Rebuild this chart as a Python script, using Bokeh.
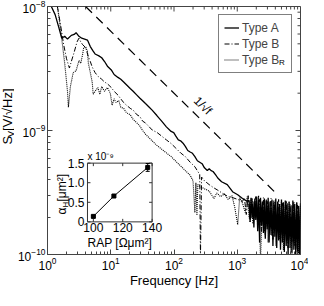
import math
from bokeh.plotting import figure
from bokeh.layouts import row
from bokeh.models import Range1d, LinearScale, FixedTicker, Legend, LegendItem, Label
from bokeh.embed import file_html
from bokeh.resources import INLINE
from bokeh.core.properties import value

FONT = "Liberation Sans"
AXIS = "#444444"

# ---------------- data ----------------
# Type A (solid)
freq_a = [1.00, 1.15, 1.32, 1.52, 1.68, 1.87, 2.07, 2.38, 2.64, 2.83, 3.14, 3.48, 3.86, 4.28,
          4.75, 5.27, 5.65, 6.49, 7.20, 7.98, 8.86, 10.2, 11.3, 13.0, 14.4, 16.0, 17.7, 20.3,
          22.6, 25.9, 28.7, 31.9, 35.4, 40.6, 45.1, 53.6, 63.8, 75.8, 90.1, 99, 107, 117, 127,
          139, 151, 165, 180, 196, 214, 234, 255, 278, 303, 336, 360, 386, 414, 459, 492, 565,
          695, 771, 855, 1017, 1210, 1438,
          1542, 1596, 1652, 1711, 1771, 1833, 1897, 1964, 2033, 2104, 2178, 2255, 2334, 2417,
          2502, 2592, 2683, 2778, 2876, 2977, 3082, 3190, 3303, 3420, 3540, 3664, 3793, 3927,
          4065, 4208, 4356, 4508, 4667, 4831, 5001, 5177, 5358, 5547, 5743, 5944, 6153, 6369,
          6600, 6826, 7080, 7330, 7570, 7850, 8113, 8410, 8710, 8997, 9330, 9643, 10000]
sv_a = [1.17e-8, 1.00e-8, 8.6e-9, 6.7e-9, 5.55e-9, 5.75e-9, 5.46e-9, 5.85e-9, 5.95e-9, 6.15e-9,
        5.75e-9, 5.55e-9, 5.46e-9, 5.36e-9, 4.75e-9, 4.36e-9, 4.14e-9, 4.00e-9, 3.86e-9, 3.60e-9,
        3.30e-9, 3.08e-9, 2.83e-9, 2.68e-9, 2.59e-9, 2.46e-9, 2.34e-9, 2.18e-9, 2.07e-9, 1.93e-9,
        1.83e-9, 1.74e-9, 1.65e-9, 1.54e-9, 1.46e-9, 1.32e-9, 1.19e-9, 1.07e-9, 9.83e-10, 9.6e-10,
        9.0e-10, 8.4e-10, 8.26e-10, 7.9e-10, 7.45e-10, 6.9e-10, 6.71e-10, 6.55e-10, 6.16e-10,
        5.7e-10, 5.55e-10, 5.4e-10, 5.0e-10, 4.75e-10, 4.92e-10, 4.75e-10, 4.67e-10, 4.36e-10,
        4.14e-10, 3.86e-10, 3.66e-10, 3.42e-10, 3.19e-10, 3.03e-10, 2.83e-10, 2.68e-10,
        2.73e-10, 1.83e-10, 2.87e-10, 1.96e-10, 2.68e-10, 1.65e-10, 2.83e-10, 1.90e-10, 2.93e-10,
        1.54e-10, 2.78e-10, 1.25e-10, 2.87e-10, 1.71e-10, 2.68e-10, 1.49e-10, 2.83e-10, 1.34e-10,
        2.73e-10, 1.60e-10, 2.87e-10, 1.25e-10, 2.68e-10, 1.44e-10, 2.78e-10, 1.17e-10, 2.64e-10,
        1.39e-10, 2.83e-10, 1.13e-10, 2.68e-10, 1.30e-10, 2.55e-10, 1.09e-10, 2.78e-10, 1.25e-10,
        2.64e-10, 1.05e-10, 2.73e-10, 1.17e-10, 2.59e-10, 0.98e-10, 2.68e-10, 1.13e-10, 2.50e-10,
        1.02e-10, 2.73e-10, 1.09e-10, 2.55e-10, 0.98e-10, 2.64e-10, 1.05e-10, 2.46e-10, 0.98e-10,
        2.59e-10]

# Type B (dash-dot)
freq_b = [1.32, 1.46, 1.62, 1.80, 2.00, 2.22, 2.38, 2.64, 2.93, 3.14, 3.36, 3.60, 4.00, 4.43,
          4.75, 5.09, 5.65, 6.27, 7.20, 7.98, 8.86, 10.2, 11.3, 13.0, 14.4, 16.0, 17.7, 20.3,
          22.6, 25.9, 28.7, 31.9, 35.4, 40.6, 45.1, 53.6, 63.8, 75.8, 90.1, 107, 127, 151, 180,
          214, 238, 255, 262, 273, 303, 360, 414, 492, 605, 719, 855, 1017, 1210,
          1297, 1389, 1489, 1596, 1711, 1833, 1964, 2104, 2255, 2417, 2592, 2778, 2977, 3190,
          3420, 3664, 3927, 4208, 4508, 4831, 5177, 5547, 5944, 6369, 6826, 7330, 7850, 8410,
          8997, 9643]
sv_b = [1.2e-8, 9.5e-9, 6.95e-9, 4.92e-9, 3.79e-9, 3.19e-9, 3.60e-9, 4.28e-9, 5.18e-9, 5.55e-9,
        5.18e-9, 4.92e-9, 4.67e-9, 3.93e-9, 3.60e-9, 3.25e-9, 2.93e-9, 2.74e-9, 2.59e-9, 2.46e-9,
        2.38e-9, 2.22e-9, 2.07e-9, 1.93e-9, 1.80e-9, 1.68e-9, 1.60e-9, 1.51e-9, 1.46e-9, 1.34e-9,
        1.30e-9, 1.19e-9, 1.15e-9, 1.07e-9, 1.01e-9, 9.66e-10, 9.01e-10, 8.4e-10, 7.85e-10,
        7.2e-10, 6.6e-10, 6.16e-10, 5.55e-10, 5.1e-10, 4.67e-10, 4.43e-10, 0.95e-10, 4.21e-10,
        3.93e-10, 3.66e-10, 3.48e-10, 3.30e-10, 3.08e-10, 2.93e-10, 2.87e-10, 2.78e-10, 2.68e-10,
        2.87e-10, 2.10e-10, 2.98e-10, 1.83e-10, 2.83e-10, 1.96e-10, 2.93e-10, 1.65e-10, 2.78e-10,
        1.54e-10, 2.87e-10, 1.39e-10, 2.68e-10, 1.65e-10, 2.83e-10, 1.30e-10, 2.64e-10, 1.49e-10,
        2.78e-10, 1.17e-10, 2.59e-10, 1.34e-10, 2.73e-10, 1.13e-10, 2.55e-10, 1.25e-10, 2.68e-10,
        1.05e-10, 2.50e-10, 1.17e-10]

# Type B_R (dotted)
freq_br = [1.41, 1.62, 1.87, 2.07, 2.14, 2.30, 2.55, 2.83, 3.14, 3.36, 3.60, 3.73, 4.00, 4.28,
           4.43, 4.75, 5.09, 5.27, 5.65, 6.27, 6.72, 7.20, 7.98, 8.86, 9.83, 10.5, 11.3, 12.1,
           13.4, 14.4, 16.0, 17.7, 20.3, 22.6, 25.9, 28.7, 31.9, 35.4, 40.6, 45.1, 53.6, 63.8,
           75.8, 90.1, 107, 127, 151, 180, 200, 214, 222, 230, 238, 273, 313, 360, 428, 475,
           546, 627, 719, 827, 916, 1017, 1091, 1210, 1342, 1438,
           1542, 1652, 1771, 1897, 2033, 2178, 2334, 2502, 2683, 2876, 3082, 3303, 3540, 3793,
           4065, 4356, 4667, 5001, 5358, 5743, 6153, 6600, 7080, 7570, 8113, 8710, 9330, 10000]
sv_br = [1.07e-8, 6.38e-9, 3.48e-9, 2.07e-9, 1.54e-9, 2.26e-9, 2.93e-9, 3.03e-9, 3.66e-9,
         3.48e-9, 4.14e-9, 4.67e-9, 4.75e-9, 4.36e-9, 3.48e-9, 2.93e-9, 2.46e-9, 1.96e-9,
         2.07e-9, 2.22e-9, 1.96e-9, 2.26e-9, 2.07e-9, 2.22e-9, 2.00e-9, 1.60e-9, 1.80e-9,
         1.68e-9, 1.74e-9, 1.54e-9, 1.51e-9, 1.39e-9, 1.34e-9, 1.23e-9, 1.15e-9, 1.09e-9,
         1.00e-9, 9.33e-10, 8.71e-10, 8.26e-10, 7.58e-10, 7.07e-10, 6.6e-10, 6.16e-10, 5.64e-10,
         5.18e-10, 4.75e-10, 4.36e-10, 3.93e-10, 2.18e-10, 3.79e-10, 2.07e-10, 3.66e-10,
         3.48e-10, 3.36e-10, 3.25e-10, 2.83e-10, 3.13e-10, 2.93e-10, 3.08e-10, 2.78e-10,
         2.98e-10, 2.38e-10, 1.74e-10, 2.87e-10, 2.59e-10, 2.18e-10, 2.93e-10,
         1.96e-10, 2.83e-10, 1.77e-10, 2.68e-10, 2.03e-10, 2.98e-10, 0.92e-10, 2.59e-10,
         1.54e-10, 2.78e-10, 1.25e-10, 2.64e-10, 1.41e-10, 2.73e-10, 1.17e-10, 2.55e-10,
         1.34e-10, 2.68e-10, 1.09e-10, 2.50e-10, 1.25e-10, 2.64e-10, 1.05e-10, 2.46e-10,
         1.17e-10, 2.59e-10, 1.02e-10, 2.50e-10]

# 1/sqrt(f) reference line
ref_f = [4.0, 4000.0]
ref_s = [1.0e-8, 3.16e-10]
ref_label_f = 214.0
ref_label_s = 1.37e-9

# inset: alpha_H vs RAP
rap = [100.0, 114.0, 137.0]
alpha_h = [0.14e-9, 0.66e-9, 1.39e-9]
alpha_err = [0.02e-9, 0.03e-9, 0.10e-9]

# ticks
x_major = [1, 10, 100, 1000, 10000]
y_major = [1e-10, 1e-9, 1e-8]
x_minor = [m * 10 ** e for e in range(0, 4) for m in range(2, 10)]
y_minor = [m * 10.0 ** e for e in (-10, -9) for m in range(2, 10)]
inset_xticks = [100, 120, 140]
inset_xlabels = ["100", "120", "140"]
inset_yticks = [0, 0.5e-9, 1.0e-9, 1.5e-9]
inset_ylabels = ["0", "0.5", "1.0", "1.5"]
inset_xlim = (96.0, 140.0)
inset_ylim = (0.0, 1.5e-9)

# ---------------- layout ----------------
LW = 14                      # width of the strip carrying the y-axis title
W, H = 308 - LW, 290
BL, BR, BT, BB = 28, 8, 6, 33
FW, FH = W - BL - BR, H - BT - BB

p = figure(width=W, height=H, x_axis_type="log", y_axis_type="log",
           x_range=Range1d(1, 1e4), y_range=Range1d(1e-10, 1e-8),
           output_backend="svg", toolbar_location=None,
           min_border_left=BL, min_border_right=BR, min_border_top=BT, min_border_bottom=BB,
           background_fill_color="white", border_fill_color="white")
p.grid.visible = False
p.outline_line_color = AXIS
p.outline_line_width = 1

p.xaxis.ticker = FixedTicker(ticks=x_major, minor_ticks=x_minor)
p.yaxis.ticker = FixedTicker(ticks=y_major, minor_ticks=y_minor)
for ax in list(p.xaxis) + list(p.yaxis):
    ax.axis_line_color = AXIS
    ax.major_tick_line_color = AXIS
    ax.minor_tick_line_color = AXIS
    ax.major_tick_in = 5
    ax.major_tick_out = 0
    ax.minor_tick_in = 3
    ax.minor_tick_out = 0
    ax.major_label_text_font = FONT
    ax.major_label_text_font_size = "12px"
    ax.major_label_text_color = "black"
    ax.major_label_standoff = 2
p.xaxis.axis_label = "Frequency [Hz]"
p.xaxis.axis_label_text_font = FONT
p.xaxis.axis_label_text_font_size = "13px"
p.xaxis.axis_label_text_font_style = "normal"
p.xaxis.axis_label_text_color = "black"
p.xaxis.axis_label_standoff = 0

# mirrored ticks on top and right
p.ray(x=x_major, y=[1e-8] * len(x_major), length=5, length_units="screen", angle=-math.pi / 2, line_color=AXIS)
p.ray(x=x_minor, y=[1e-8] * len(x_minor), length=3, length_units="screen", angle=-math.pi / 2, line_color=AXIS)
p.ray(x=[1e4] * len(y_major), y=y_major, length=5, length_units="screen", angle=math.pi, line_color=AXIS)
p.ray(x=[1e4] * len(y_minor), y=y_minor, length=3, length_units="screen", angle=math.pi, line_color=AXIS)

# curves
rbr = p.line(freq_br, sv_br, line_color="black", line_width=1.1, line_dash="1 1")
rb = p.line(freq_b, sv_b, line_color="black", line_width=1, line_dash="5 2 1 2")
ra = p.line(freq_a, sv_a, line_color="black", line_width=1.3)
p.line(ref_f, ref_s, line_color="black", line_width=1.2, line_dash="9 6")

p.add_layout(Label(x=ref_label_f, y=ref_label_s, text="1/√f", angle=-math.pi / 4,
                   text_align="center", text_baseline="bottom", x_offset=3, y_offset=3,
                   text_font=FONT, text_font_size="12px", text_color="black"))

# legend (top right); the B_R subscript is a small label placed after the third entry
L_MARGIN, L_PAD, L_GLYPH, L_STAND, L_LABW, L_ROW, L_SPACE = 8, 5, 15, 3, 44, 15, 1
TXT_W = 34   # advance of "Type B" at 12px
legend = Legend(items=[LegendItem(label="Type A", renderers=[ra]),
                       LegendItem(label="Type B", renderers=[rb]),
                       LegendItem(label="Type B", renderers=[rbr])],
                location="top_right", padding=L_PAD, spacing=L_SPACE, margin=L_MARGIN,
                glyph_width=L_GLYPH, glyph_height=L_ROW, label_height=L_ROW,
                label_standoff=L_STAND, label_width=L_LABW,
                label_text_font=FONT, label_text_font_size="12px",
                border_line_color="black", border_line_width=1,
                background_fill_color="white", background_fill_alpha=0.0)
p.add_layout(legend)
r_px = FW - L_MARGIN - L_PAD - L_LABW + TXT_W + 1          # px from frame left
r_py = L_MARGIN + L_PAD + 2 * (L_ROW + L_SPACE) + L_ROW / 2 + 4   # px from frame top
p.add_layout(Label(x=10 ** (4.0 * r_px / FW), y=10 ** (-8.0 - 2.0 * r_py / FH),
                   text="R", text_align="left", text_baseline="middle",
                   text_font=FONT, text_font_size="8px", text_color="black"))

# ---------------- inset ----------------
FX0, FX1 = 0.158, 0.4135
FY0, FY1 = 0.1316, 0.3684
ixs = (inset_xlim[1] - inset_xlim[0]) / (FX1 - FX0)
ix0 = inset_xlim[0] - FX0 * ixs
iys = (inset_ylim[1] - inset_ylim[0]) / (FY1 - FY0)
iy0 = inset_ylim[0] - FY0 * iys
p.extra_x_ranges = {"ix": Range1d(ix0, ix0 + ixs)}
p.extra_x_scales = {"ix": LinearScale()}
p.extra_y_ranges = {"iy": Range1d(iy0, iy0 + iys)}
p.extra_y_scales = {"iy": LinearScale()}
kw = dict(x_range_name="ix", y_range_name="iy")
ICOL = "#333333"

p.quad(left=[inset_xlim[0]], right=[inset_xlim[1]], bottom=[inset_ylim[0]], top=[inset_ylim[1]],
       fill_color="white", line_color=ICOL, line_width=1, **kw)
nx, ny = len(inset_xticks), len(inset_yticks)
p.ray(x=inset_xticks, y=[inset_ylim[0]] * nx, length=3, length_units="screen", angle=math.pi / 2, line_color=ICOL, **kw)
p.ray(x=inset_xticks, y=[inset_ylim[1]] * nx, length=3, length_units="screen", angle=-math.pi / 2, line_color=ICOL, **kw)
p.ray(x=[inset_xlim[0]] * ny, y=inset_yticks, length=3, length_units="screen", angle=0, line_color=ICOL, **kw)
p.ray(x=[inset_xlim[1]] * ny, y=inset_yticks, length=3, length_units="screen", angle=math.pi, line_color=ICOL, **kw)

lo = [a - e for a, e in zip(alpha_h, alpha_err)]
hi = [a + e for a, e in zip(alpha_h, alpha_err)]
p.line(rap, alpha_h, line_color="black", line_width=1, **kw)
p.segment(x0=rap, y0=lo, x1=rap, y1=hi, line_color="black", line_width=1, **kw)
p.scatter(rap, lo, marker="dash", size=4, line_color="black", **kw)
p.scatter(rap, hi, marker="dash", size=4, line_color="black", **kw)
p.scatter(rap, alpha_h, marker="square", size=4, fill_color="black", line_color="black", **kw)

tf = dict(text_font=value(FONT), text_color="black")
p.text(x=inset_xticks, y=[inset_ylim[0]] * nx, text=inset_xlabels, text_align="center",
       text_baseline="top", y_offset=1, text_font_size="12px", **tf, **kw)
p.text(x=[inset_xlim[0]] * ny, y=inset_yticks, text=inset_ylabels, text_align="right",
       text_baseline="middle", x_offset=-3, text_font_size="12px", **tf, **kw)
p.text(x=[inset_xlim[0]], y=[inset_ylim[1]], text=["x 10⁻⁹"], text_align="left",
       text_baseline="bottom", y_offset=-1, text_font_size="10px", **tf, **kw)
p.text(x=[118.0], y=[inset_ylim[0]], text=["RAP [Ωμm²]"], text_align="center",
       text_baseline="top", y_offset=14, text_font_size="12px", **tf, **kw)
ymid = 0.5 * (inset_ylim[0] + inset_ylim[1])
p.text(x=[inset_xlim[0]], y=[ymid], text=["α"], angle=math.pi / 2, text_align="left",
       text_baseline="middle", x_offset=-25, y_offset=22, text_font_size="12px", **tf, **kw)
p.text(x=[inset_xlim[0]], y=[ymid], text=["H"], angle=math.pi / 2, text_align="left",
       text_baseline="middle", x_offset=-22, y_offset=15, text_font_size="8px", **tf, **kw)
p.text(x=[inset_xlim[0]], y=[ymid], text=["[μm²]"], angle=math.pi / 2, text_align="left",
       text_baseline="middle", x_offset=-25, y_offset=9, text_font_size="12px", **tf, **kw)

# ---------------- y-axis title strip ----------------
ylab = figure(width=LW, height=H, x_range=Range1d(0, LW), y_range=Range1d(0, H),
              output_backend="svg", toolbar_location=None, min_border=0,
              x_axis_location=None, y_axis_location=None,
              background_fill_color="white", border_fill_color="white")
ylab.grid.visible = False
ylab.outline_line_color = None
yc = BB + FH / 2.0           # vertical centre of the main frame
ytf = dict(text_font=value(FONT), text_color="black", angle=math.pi / 2,
           text_align="left", text_baseline="middle")
ylab.text(x=[7], y=[yc - 30], text=["S"], text_font_size="13px", **ytf)
ylab.text(x=[10], y=[yc - 21], text=["V"], text_font_size="9px", **ytf)
ylab.text(x=[7], y=[yc - 14], text=[" [V/√Hz]"], text_font_size="13px", **ytf)

layout = row(ylab, p)
open("out.html", "w").write(file_html(layout, INLINE))
